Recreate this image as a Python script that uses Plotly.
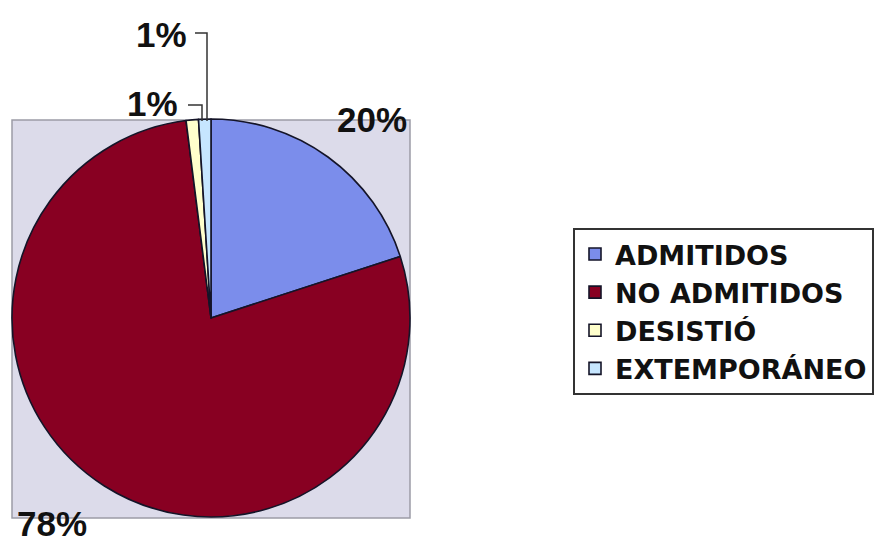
import plotly.graph_objects as go

# Application outcome shares
categories = ["ADMITIDOS", "NO ADMITIDOS", "DESISTIÓ", "EXTEMPORÁNEO"]
shares = [20, 78, 1, 1]
colors = ["#7B8DEB", "#880022", "#FFFFCC", "#C6E6FF"]

W, H = 885, 544

def px(x):
    return x / W

def py(y):
    return 1 - y / H

# pie geometry in pixels
cx, cy, r = 211, 318, 199

fig = go.Figure(
    go.Pie(
        labels=categories,
        values=shares,
        sort=False,
        direction="clockwise",
        rotation=0,
        textinfo="none",
        hoverinfo="label+percent",
        marker=dict(colors=colors, line=dict(color="#141428", width=1.6)),
        domain=dict(x=[px(cx - r), px(cx + r)], y=[py(cy + r), py(cy - r)]),
        showlegend=True,
    )
)

total = sum(shares)
pct = [f"{v / total * 100:.0f}%" for v in shares]

# percentage labels placed around the pie
label_pos = [(372, 119), (52, 523), (152, 103), (161, 34)]
for text, (x, y) in zip(pct, label_pos):
    fig.add_annotation(
        x=px(x), y=py(y), xref="paper", yref="paper",
        text=text, showarrow=False,
        xanchor="center", yanchor="middle",
        font=dict(family="Liberation Sans, Arial, sans-serif", size=35,
                  color="#111111", weight="bold"),
    )

shapes = [
    # plot area background
    dict(type="rect", xref="paper", yref="paper", layer="below",
         x0=px(12), x1=px(410), y0=py(518), y1=py(120),
         fillcolor="#DCDBEA", line=dict(color="#9C9CA6", width=1.5)),
    # leader lines for the small slices
    dict(type="path", xref="paper", yref="paper",
         path=f"M {px(188)} {py(105)} L {px(202)} {py(105)} L {px(202)} {py(121)}",
         line=dict(color="#333333", width=1.5)),
    dict(type="path", xref="paper", yref="paper",
         path=f"M {px(195)} {py(33)} L {px(207)} {py(33)} L {px(207)} {py(121)}",
         line=dict(color="#333333", width=1.5)),
]

fig.update_layout(
    width=W, height=H,
    margin=dict(l=0, r=0, t=0, b=0),
    paper_bgcolor="white",
    plot_bgcolor="white",
    shapes=shapes,
    legend=dict(
        x=px(573), y=py(228), xanchor="left", yanchor="top",
        bordercolor="#333333", borderwidth=2, bgcolor="white",
        font=dict(family="DejaVu Sans, sans-serif", size=27,
                  color="#111111", weight="bold"),
        itemwidth=30, tracegroupgap=0,
    ),
)

fig.write_html("out.html")
